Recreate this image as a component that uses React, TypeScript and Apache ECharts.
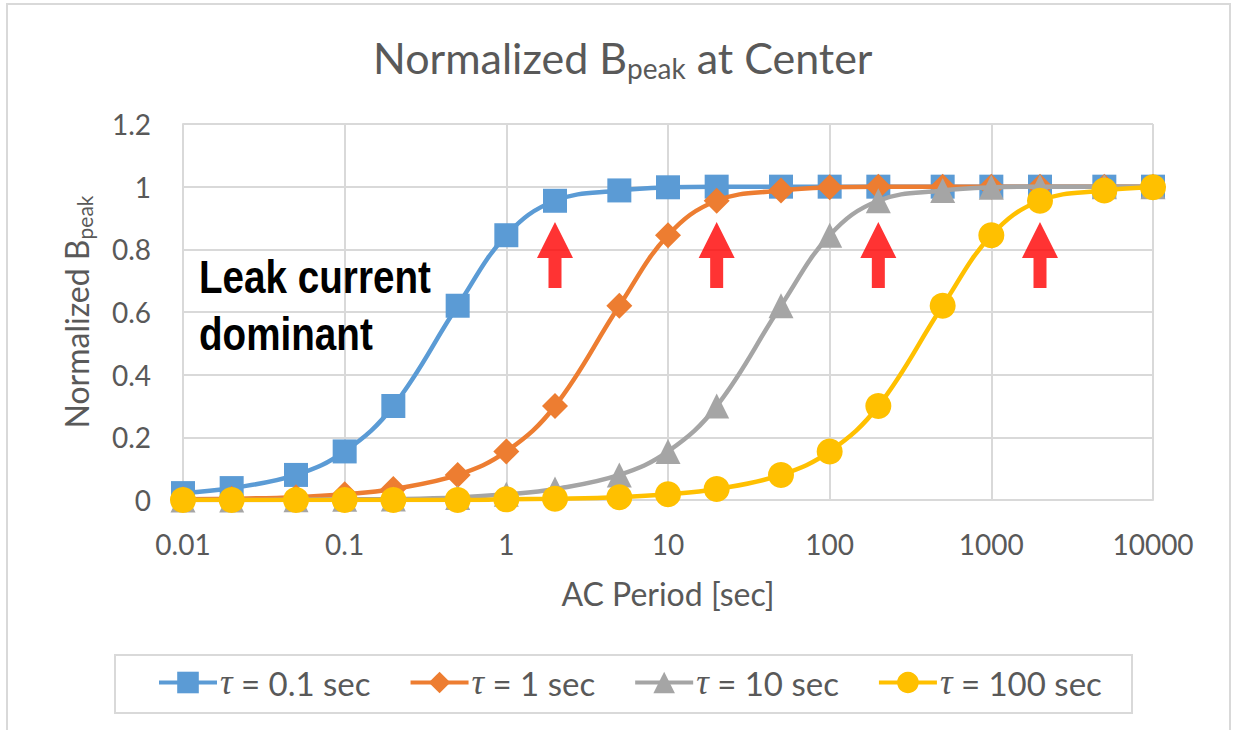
import React, { useEffect, useRef } from 'react';
import * as echarts from 'echarts';

const periods = [0.01, 0.02, 0.05, 0.1, 0.2, 0.5, 1, 2, 5, 10, 20, 50, 100, 200, 500, 1000, 2000, 5000, 10000];
const seriesNames = ['τ = 0.1 sec', 'τ = 1 sec', 'τ = 10 sec', 'τ = 100 sec'];
const tau01 = [0.022, 0.038, 0.08, 0.155, 0.3, 0.62, 0.845, 0.955, 0.988, 0.998, 1, 1, 1, 1, 1, 1, 1, 1, 1];
const tau1 = [0.002, 0.004, 0.009, 0.018, 0.035, 0.08, 0.155, 0.3, 0.62, 0.845, 0.955, 0.988, 0.998, 1, 1, 1, 1, 1, 1];
const tau10 = [0, 0, 0.001, 0.002, 0.003, 0.008, 0.018, 0.035, 0.08, 0.155, 0.3, 0.62, 0.845, 0.955, 0.988, 0.998, 1, 1, 1];
const tau100 = [0, 0, 0, 0, 0, 0, 0.002, 0.004, 0.009, 0.018, 0.035, 0.08, 0.155, 0.3, 0.62, 0.845, 0.955, 0.988, 0.998];
const seriesValues = [tau01, tau1, tau10, tau100];
const seriesColors = ['#5B9BD5', '#ED7D31', '#A5A5A5', '#FFC000'];
const seriesSymbols = ['rect', 'diamond', 'triangle', 'circle'];
const seriesSymbolSizes = [24, 26, 25, 26];

const arrowPeriods = [2, 20, 200, 2000];
const arrowLevels = [0.782, 0.782, 0.782, 0.782];

const xTickLabels = ['0.01', '0.1', '1', '10', '100', '1000', '10000'];
const yTickLabels = ['0', '0.2', '0.4', '0.6', '0.8', '1', '1.2'];

const FONT = 'Lato, "Open Sans", sans-serif';
const TEXT = '#595959';
const GRIDC = '#d9d9d9';

export default function App() {
  const ref = useRef<HTMLDivElement>(null);
  useEffect(() => {
    if (!ref.current) return;
    const chart = echarts.init(ref.current, undefined, { renderer: 'svg' });
    const series: any[] = seriesNames.map((name, s) => ({
      name,
      type: 'line',
      data: periods.map((p, i) => [p, seriesValues[s][i]]),
      smooth: 0.4,
      symbol: seriesSymbols[s],
      symbolSize: seriesSymbolSizes[s],
      lineStyle: { width: 4.5, color: seriesColors[s] },
      itemStyle: { color: seriesColors[s] },
      z: 2 + s,
    }));
    series.push({
      name: 'arrows',
      type: 'scatter',
      data: arrowPeriods.map((p, i) => [p, arrowLevels[i]]),
      symbol: 'path://M18 0L36 36L24.5 36L24.5 66L11.5 66L11.5 36L0 36Z',
      symbolSize: [36, 66],
      itemStyle: { color: '#FF0000' },
      silent: true,
      z: 10,
    });
    chart.setOption({
      animation: false,
      backgroundColor: '#ffffff',
      title: {
        text: '{a|Normalized B}{b|peak}{a| at Center}',
        left: 368,
        top: 27,
        textStyle: {
          fontWeight: 'normal',
          rich: {
            a: { fontFamily: FONT, fontSize: 43, fontWeight: 'normal', color: TEXT, lineHeight: 50 },
            b: { fontFamily: FONT, fontSize: 28, fontWeight: 'normal', color: TEXT, lineHeight: 28, verticalAlign: 'bottom' },
          },
        },
      },
      grid: { left: 183, right: 82, top: 124, bottom: 230 },
      xAxis: {
        type: 'log',
        logBase: 10,
        min: 0.01,
        max: 10000,
        name: 'AC Period [sec]',
        nameLocation: 'middle',
        nameGap: 77,
        nameTextStyle: { fontFamily: FONT, fontSize: 32, color: TEXT },
        axisLine: { show: true, lineStyle: { color: GRIDC, width: 2 } },
        axisTick: { show: false },
        axisLabel: {
          margin: 30,
          fontFamily: FONT,
          fontSize: 28,
          color: TEXT,
          formatter: (v: number) => xTickLabels[Math.round(Math.log10(v)) + 2],
        },
        splitLine: { show: true, lineStyle: { color: GRIDC, width: 2 } },
      },
      yAxis: {
        type: 'value',
        min: 0,
        max: 1.2,
        interval: 0.2,
        name: '{a|Normalized B}{b|peak}',
        nameLocation: 'middle',
        nameGap: 88,
        nameRotate: 90,
        nameTextStyle: {
          rich: {
            a: { fontFamily: FONT, fontSize: 32, color: TEXT, lineHeight: 38 },
            b: { fontFamily: FONT, fontSize: 21, color: TEXT, lineHeight: 21, verticalAlign: 'bottom' },
          },
        },
        axisLine: { show: true, lineStyle: { color: GRIDC, width: 2 } },
        axisTick: { show: false },
        axisLabel: {
          margin: 32,
          fontFamily: FONT,
          fontSize: 28,
          color: TEXT,
          formatter: (v: number) => yTickLabels[Math.round(v / 0.2)],
        },
        splitLine: { show: true, lineStyle: { color: GRIDC, width: 2 } },
      },
      legend: {
        data: seriesNames,
        left: 157,
        top: 665,
        padding: 0,
        itemWidth: 58,
        itemHeight: 27,
        itemGap: 38,
        lineStyle: { width: 4 },
        formatter: (name: string) => '{i|τ}' + name.slice(1),
        textStyle: {
          fontFamily: FONT,
          fontSize: 33,
          color: TEXT,
          padding: [0, 0, 0, -2],
          rich: {
            i: { fontFamily: '"Liberation Serif", serif', fontStyle: 'italic', fontSize: 35, color: TEXT },
          },
        },
      },
      graphic: [
        {
          type: 'rect',
          shape: { x: 7, y: 4, width: 1223, height: 760 },
          style: { fill: 'none', stroke: GRIDC, lineWidth: 2 },
          silent: true,
          z: -1,
        },
        {
          type: 'rect',
          shape: { x: 115, y: 655, width: 1017, height: 58 },
          style: { fill: 'none', stroke: GRIDC, lineWidth: 2 },
          silent: true,
          z: -1,
        },
        {
          type: 'text',
          x: 199,
          y: 249,
          scaleX: 0.84,
          style: {
            text: 'Leak current\ndominant',
            font: 'bold 46px "Liberation Sans", Arial, sans-serif',
            fill: '#000000',
            lineHeight: 57,
            verticalAlign: 'top',
          },
          z: 20,
        },
      ],
      series,
    });
    return () => chart.dispose();
  }, []);
  return <div ref={ref} style={{ position: 'fixed', left: 0, top: 0, width: 1235, height: 730, background: '#fff' }} />;
}
